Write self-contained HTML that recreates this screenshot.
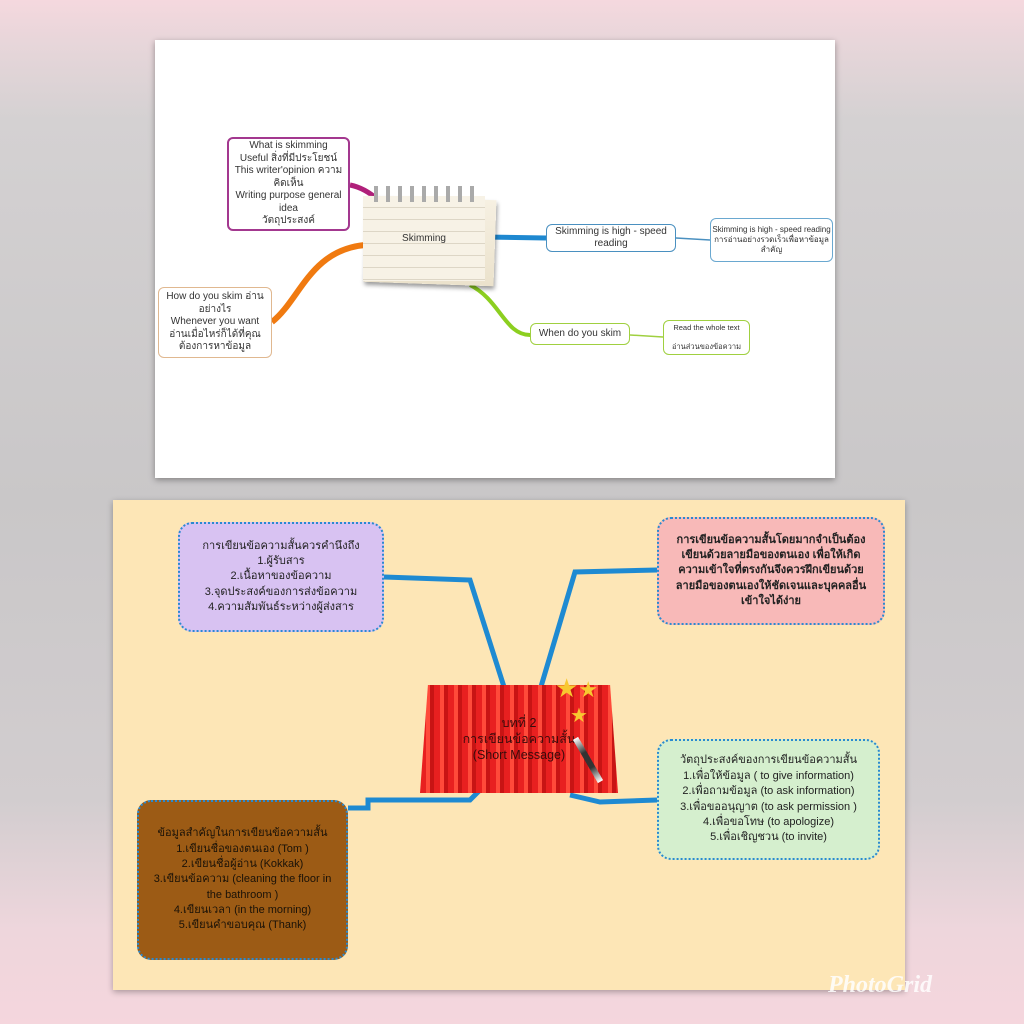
<!DOCTYPE html>
<html><head><meta charset="utf-8"><style>
*{margin:0;padding:0;box-sizing:border-box}
body{width:1024px;height:1024px;position:relative;overflow:hidden;font-family:"Liberation Sans","DejaVu Sans","Noto Sans CJK SC",sans-serif;
background:linear-gradient(180deg,#f5d8de 0px,#e8d6da 40px,#d4d1d2 120px,#c9c7c8 500px,#d2cdcf 800px,#eed6dc 930px,#f5d6dd 1024px);}
.abs{position:absolute}
.card1{left:155px;top:40px;width:680px;height:438px;background:#fff;box-shadow:0 2px 6px rgba(0,0,0,.35)}
.card2{left:113px;top:500px;width:792px;height:490px;background:#fde6b6;box-shadow:0 2px 6px rgba(0,0,0,.3)}
.box{position:absolute;display:flex;align-items:center;justify-content:center;text-align:center;color:#333;background:#fff;border-radius:6px;line-height:1.25}
.sc{position:absolute;display:flex;align-items:center;justify-content:center;text-align:center;color:#222;line-height:1.4;font-size:11px;border-radius:14px}
</style></head><body>
<div class="abs card1"></div>
<div class="abs card2"></div>
<svg class="abs" style="left:0;top:0" width="1024" height="1024">
 <path d="M350 185 Q365 188 378 200" stroke="#b0207a" stroke-width="5" fill="none"/>
 <path d="M272 322 C300 300 310 250 365 245" stroke="#f07a10" stroke-width="6" fill="none"/>
 <path d="M485 237 L546 238" stroke="#1e88d0" stroke-width="5" fill="none"/>
 <path d="M676 238 L710 240" stroke="#4a90c0" stroke-width="1.5" fill="none"/>
 <path d="M470 285 C500 300 505 335 530 335" stroke="#8ccf20" stroke-width="4" fill="none"/>
 <path d="M630 335 L663 337" stroke="#a0d040" stroke-width="1.5" fill="none"/>
 <g stroke="#1e8ad2" stroke-width="5" fill="none">
  <path d="M384 577 L470 580 L505 690"/>
  <path d="M657 570 L575 572 L540 690"/>
  <path d="M348 808 L368 808 L368 800 L470 800 L480 790"/>
  <path d="M570 795 L600 802 L657 800"/>
 </g>
</svg>
<div class="box" style="left:227px;top:137px;width:123px;height:94px;border:2px solid #a3388f;font-size:10px">What is skimming<br>Useful สิ่งที่มีประโยชน์<br>This writer'opinion ความคิดเห็น<br>Writing purpose general idea<br>วัตถุประสงค์</div>
<div class="box" style="left:158px;top:287px;width:114px;height:71px;border:1.5px solid #e0b890;font-size:10px">How do you skim อ่านอย่างไร<br>Whenever you want<br>อ่านเมื่อไหร่ก็ได้ที่คุณต้องการหาข้อมูล</div>
<div class="abs" style="left:365px;top:198px;width:130px;height:86px;background:linear-gradient(#f6f0e2,#ebe2cc);box-shadow:1px 3px 4px rgba(0,0,0,.4);transform:rotate(2deg)"></div>
<div class="abs" style="left:363px;top:196px;width:122px;height:85px;background:repeating-linear-gradient(#f7f2e6 0 11px,#ddd6c6 11px 12px);display:flex;align-items:center;justify-content:center;font-size:10px;color:#333">Skimming</div>
<div class="abs" style="left:370px;top:186px;width:110px;height:16px;background:repeating-linear-gradient(90deg,transparent 0 4px,#aaa 4px 8px,transparent 8px 12px)"></div>
<div class="box" style="left:546px;top:224px;width:130px;height:28px;border:1.5px solid #4a90c0;font-size:10px">Skimming is high - speed reading</div>
<div class="box" style="left:710px;top:218px;width:123px;height:44px;border:1.5px solid #6aa8d0;font-size:8px">Skimming is high - speed reading การอ่านอย่างรวดเร็วเพื่อหาข้อมูลสำคัญ</div>
<div class="box" style="left:530px;top:323px;width:100px;height:22px;border:1.5px solid #a0d040;font-size:10px">When do you skim</div>
<div class="box" style="left:663px;top:320px;width:87px;height:35px;border:1.5px solid #a0d040;font-size:7.5px">Read the whole text<br><br>อ่านส่วนของข้อความ</div>

<div class="sc" style="left:178px;top:522px;width:206px;height:110px;background:#d8c2f2;border:2px dotted #2a8ad0">การเขียนข้อความสั้นควรคำนึงถึง<br>1.ผู้รับสาร<br>2.เนื้อหาของข้อความ<br>3.จุดประสงค์ของการส่งข้อความ<br>4.ความสัมพันธ์ระหว่างผู้ส่งสาร</div>
<div class="sc" style="left:657px;top:517px;width:228px;height:108px;background:#f8b9b8;border:2px dotted #2a8ad0;font-weight:bold;padding:0 12px">การเขียนข้อความสั้นโดยมากจำเป็นต้องเขียนด้วยลายมือของตนเอง เพื่อให้เกิดความเข้าใจที่ตรงกันจึงควรฝึกเขียนด้วยลายมือของตนเองให้ชัดเจนและบุคคลอื่นเข้าใจได้ง่าย</div>
<div class="sc" style="left:657px;top:739px;width:223px;height:121px;background:#d5efce;border:2px dotted #2a8ad0">วัตถุประสงค์ของการเขียนข้อความสั้น<br>1.เพื่อให้ข้อมูล ( to give information)<br>2.เพื่อถามข้อมูล (to ask information)<br>3.เพื่อขออนุญาต (to ask permission )<br>4.เพื่อขอโทษ (to apologize)<br>5.เพื่อเชิญชวน (to invite)</div>
<div class="sc" style="left:137px;top:800px;width:211px;height:160px;background:#9c5b15;border:2px dotted #2a8ad0;padding:0 12px;color:#1a1208">ข้อมูลสำคัญในการเขียนข้อความสั้น<br>1.เขียนชื่อของตนเอง (Tom )<br>2.เขียนชื่อผู้อ่าน (Kokkak)<br>3.เขียนข้อความ (cleaning the floor in the bathroom )<br>4.เขียนเวลา (in the morning)<br>5.เขียนคำขอบคุณ (Thank)</div>

<div class="abs" style="left:420px;top:685px;width:198px;height:108px;background:repeating-linear-gradient(90deg,#e82020 0 6px,#ff4a3a 6px 10px,#c81414 10px 14px);clip-path:polygon(4% 0,96% 0,100% 100%,0 100%);display:flex;align-items:center;justify-content:center;text-align:center;font-size:12.5px;color:#3a0c0c;line-height:1.3">บทที่ 2<br>การเขียนข้อความสั้น<br>(Short Message)</div>
<div class="abs" style="left:585px;top:735px;width:6px;height:50px;background:linear-gradient(#fff,#333,#333,#fff);transform:rotate(-30deg)"></div>
<div class="abs" style="left:555px;top:675px;font-size:26px;color:#f8c830;line-height:1">★<span style="font-size:22px">★</span></div>
<div class="abs" style="left:570px;top:703px;font-size:20px;color:#f8c830">★</div>
<div class="abs" style="left:828px;top:972px;font-size:24px;font-style:italic;font-weight:bold;color:#fff;opacity:.85;font-family:'Liberation Serif',serif">PhotoGrid</div>
</body></html>
